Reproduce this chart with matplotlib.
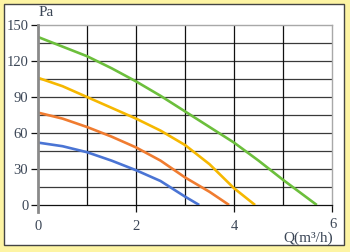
import matplotlib
matplotlib.use("Agg")
import matplotlib.pyplot as plt
from matplotlib.patches import Rectangle

# Data
x_green = [0, 0.5, 1, 1.5, 2, 2.5, 3, 3.5, 4, 4.5, 5, 5.69]
y_green = [140, 132, 124, 114, 103, 91, 78, 65, 52, 37, 21, 0]
x_yellow = [0, 0.5, 1, 1.5, 2, 2.5, 3, 3.5, 4, 4.43]
y_yellow = [106, 99, 90, 81, 72, 62, 50, 34, 14, 0]
x_orange = [0, 0.5, 1, 1.5, 2, 2.5, 3, 3.5, 3.9]
y_orange = [77, 72, 65, 57, 48, 37, 23, 11, 0]
x_blue = [0, 0.5, 1, 1.5, 2, 2.5, 3, 3.29]
y_blue = [52, 49, 44, 37, 29, 20, 7, 0]
y_ticks = [0, 30, 60, 90, 120, 150]
x_ticks = [0, 2, 4, 6]
x_tick_labels = ["0", "2", "4", ""]

serif = ["Liberation Serif", "DejaVu Serif"]
plt.rcParams['font.family'] = serif
txt_color = "#3b4656"
fs = 10.5

fig = plt.figure(figsize=(3.5, 2.52), dpi=100, facecolor="#fdf4a3")
fig.add_artist(Rectangle((4/350, 1-245/252), 340/350, 241/252, transform=fig.transFigure,
                         facecolor="white", edgecolor="#444444", linewidth=1.0, zorder=-5))

ax = fig.add_axes([38/350, 1-205/252, 294/350, 180/252])
ax.set_zorder(1)
ax.set_facecolor("none")
ax.set_xlim(0, 6)
ax.set_ylim(0, 150)

# grid
for yv in range(15, 150, 15):
    ax.axhline(yv, color="#3a3a3a", lw=0.9, zorder=1)
for xv in range(1, 6):
    ax.axvline(xv, color="#111111", lw=0.9, zorder=1)

for xs, ys, c in [(x_blue, y_blue, "#4a74d4"), (x_orange, y_orange, "#f07c30"),
                  (x_yellow, y_yellow, "#f6b800"), (x_green, y_green, "#6cbf3c")]:
    ax.plot(xs, ys, color=c, lw=1.9, zorder=3, solid_capstyle="butt", solid_joinstyle="round")

for s in ["top", "right"]:
    ax.spines[s].set_color("#a8a8a8")
    ax.spines[s].set_linewidth(1.0)
ax.spines["bottom"].set_color("#111111")
ax.spines["bottom"].set_linewidth(0.9)
ax.spines["left"].set_visible(False)
ax.plot([0, 0], [-6, 150], color="#8a8a8a", lw=2.0, clip_on=False, zorder=4)

ax.set_yticks(y_ticks)
ax.set_yticklabels([str(v) for v in y_ticks])
ax.set_xticks(x_ticks)
ax.set_xticklabels(x_tick_labels)
ax.tick_params(axis="y", length=5, width=0.9, color="#111111", labelsize=fs, labelcolor=txt_color, pad=2)
ax.tick_params(axis="x", length=5, width=0.9, color="#111111", labelsize=fs, labelcolor=txt_color, pad=6)
ax.get_xticklines()[0].set_visible(False)

ax.text(6.02, -16, "6", ha="center", va="center", fontsize=fs, color=txt_color)
ax.text(6.03, -27.5, "Q(m³/h)", ha="right", va="center", fontsize=fs + 0.5, color=txt_color)
ax.text(0.02, 155, "Pa", ha="left", va="bottom", fontsize=fs + 0.5, color=txt_color)

fig.savefig("out.png", dpi=100, facecolor=fig.get_facecolor())
